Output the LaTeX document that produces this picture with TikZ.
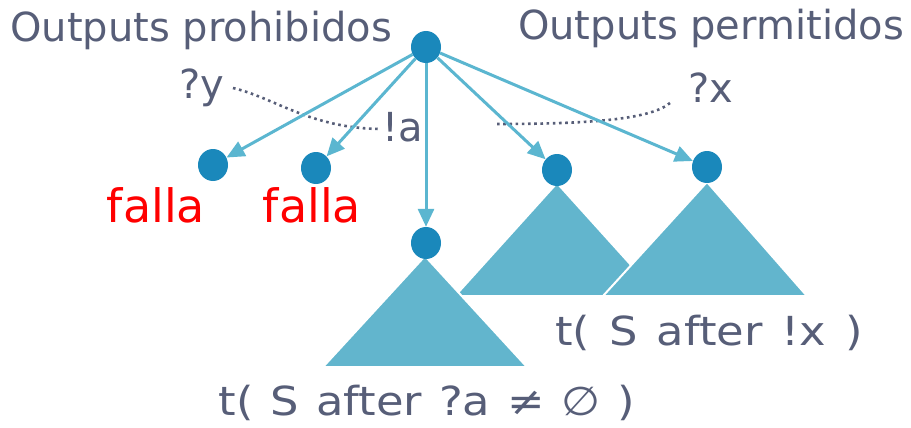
\documentclass[tikz,border=0pt]{standalone}
\usepackage{fontspec}
\setmainfont{DejaVu Sans}
\usetikzlibrary{arrows.meta,shapes.geometric}
\definecolor{txt}{HTML}{575E78}
\definecolor{nodeb}{HTML}{1A88BB}
\definecolor{arr}{HTML}{5BB6D0}
\definecolor{tri}{HTML}{62B5CD}
\tikzset{
  dot/.style={ellipse,fill=nodeb,inner sep=0pt,minimum width=30pt,minimum height=32pt},
  edge/.style={draw=arr,line width=3pt,-{Triangle[length=18pt,width=16pt]}},
  lbl/.style={text=txt,inner sep=0pt,font=\fontsize{40}{44}\selectfont},
  wide/.style={text=txt,inner sep=0pt,font=\fontsize{40}{44}\selectfont\addfontfeature{FakeStretch=1.12}},
  fail/.style={text=red,inner sep=0pt,font=\fontsize{46}{50}\selectfont},
  tribox/.style={fill=tri,draw=white,line width=2pt,line join=miter},
  sep/.style={draw=txt,line width=2.6pt,dash pattern=on 2.6pt off 3.6pt}
}
\begin{document}
\begin{tikzpicture}[x=1pt,y=-1pt]
\useasboundingbox (0,0) rectangle (911,428);
% triangles
\draw[tribox] (557,183) -- (455,296) -- (659,296) -- cycle;
\draw[tribox] (707,182) -- (603,296) -- (807,296) -- cycle;
\draw[tribox] (425,256) -- (323,367) -- (527,367) -- cycle;
% nodes
\node[dot] (r) at (426,47) {};
\node[dot] (a) at (213,165) {};
\node[dot] (b) at (316,168) {};
\node[dot] (m) at (426,243) {};
\node[dot] (c) at (557,170) {};
\node[dot] (d) at (707,167) {};
% dotted separators
\draw[sep] (233,88) .. controls (275,98) and (310,128) .. (380,129);
\draw[sep] (497,124) .. controls (585,124) and (650,120) .. (670,103);
% edges
\draw[edge] (r) -- (a);
\draw[edge] (r) -- (b);
\draw[edge] (r) -- (m);
\draw[edge] (r) -- (c);
\draw[edge] (r) -- (d);
% labels
\node[lbl] (op) at (201,30) {Outputs prohibidos};
\node[lbl] (ope) at (711,28) {Outputs permitidos};
\node[lbl] (y) at (202,88) {?y};
\node[lbl] (la) at (403,127) {!a};
\node[lbl] (x) at (711,88) {?x};
\node[fail] (f1) at (156,205) {falla};
\node[fail] (f2) at (312,205) {falla};
\node[wide] (t1) at (709,333) {\spaceskip=19pt t( S after !x )};
\node[wide] (t2) at (427,403) {\spaceskip=17pt t( S after ?a ≠ ∅ )};
\end{tikzpicture}
\end{document}
